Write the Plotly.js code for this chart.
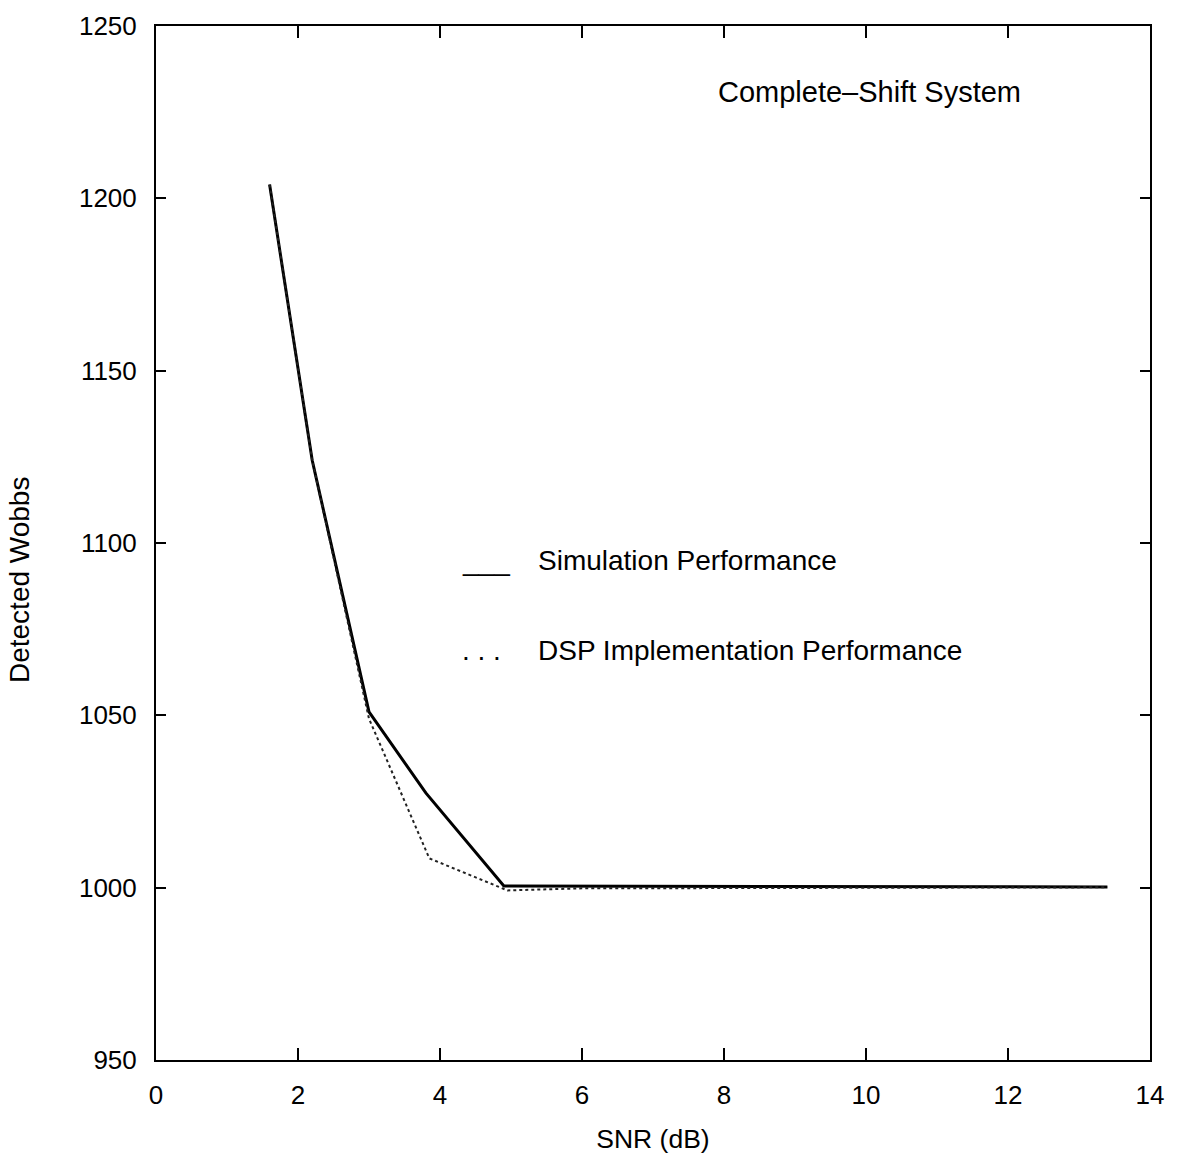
<!DOCTYPE html>
<html>
<head>
<meta charset="utf-8">
<script src="https://cdn.plot.ly/plotly-3.0.1.min.js"></script>
<style>html,body{margin:0;padding:0;background:#fff;}#chart{width:1181px;height:1162px;}</style>
</head>
<body>
<div id="chart"></div>
<script>
// Data
const simSNR = [1.6, 2.2, 3.0, 3.8, 4.9, 13.4];
const simWobbs = [1204, 1124, 1051, 1027.5, 1000.5, 1000.2];
const dspSNR = [1.6, 2.2, 3.0, 3.85, 4.95, 6.0, 13.4];
const dspWobbs = [1204, 1124, 1049, 1008.5, 999.2, 999.8, 1000.1];
const seriesNames = ["Simulation Performance", "DSP Implementation Performance"];
const legendKeys = ["___", ". . ."];
const xTicks = [0, 2, 4, 6, 8, 10, 12, 14];
const yTicks = [950, 1000, 1050, 1100, 1150, 1200, 1250];
const chartLabel = "Complete\u2013Shift System";
const xTitle = "SNR (dB)";
const yTitle = "Detected Wobbs";

const FONT = "Liberation Sans, Arial, Helvetica, sans-serif";

const traces = [
  {x: simSNR, y: simWobbs, mode: "lines", name: seriesNames[0],
   line: {color: "#000", width: 3}},
  {x: dspSNR, y: dspWobbs, mode: "lines", name: seriesNames[1],
   line: {color: "#222", width: 2, dash: "dot"}}
];

const axisCommon = {
  showgrid: false, zeroline: false, showline: true, linecolor: "#000", linewidth: 2,
  mirror: "ticks", ticks: "inside", tickwidth: 2, tickcolor: "#000",
  tickfont: {family: FONT, size: 26, color: "#000"}
};

function txt(text, x, y, xanchor, size, extra) {
  return Object.assign({text: text, xref: "paper", yref: "paper", x: x, y: y,
    xanchor: xanchor, yanchor: "middle", showarrow: false,
    font: {family: FONT, size: size, color: "#000"}}, extra || {});
}

const layout = {
  width: 1181, height: 1162,
  margin: {l: 156, r: 31, t: 26, b: 102},
  paper_bgcolor: "#fff", plot_bgcolor: "#fff",
  font: {family: FONT, color: "#000"},
  showlegend: false,
  xaxis: Object.assign({}, axisCommon, {
    range: [0, 14], tickvals: xTicks, ticklen: 12, ticklabelstandoff: 11,
    title: {text: xTitle, font: {family: FONT, size: 26.5, color: "#000"}, standoff: 20}
  }),
  yaxis: Object.assign({}, axisCommon, {
    range: [950, 1250], tickvals: yTicks, ticklen: 10, ticklabelstandoff: 12
  }),
  annotations: [
    txt(chartLabel, 0.718, 0.936, "center", 29),
    txt(legendKeys[0], 0.306, 0.4826, "left", 28),
    txt(seriesNames[0], 0.382, 0.4826, "left", 28),
    txt(legendKeys[1], 0.306, 0.3965, "left", 28),
    txt(seriesNames[1], 0.382, 0.3965, "left", 28),
    txt(yTitle, -0.1378, 0.4642, "center", 28, {textangle: -90})
  ]
};

Plotly.newPlot("chart", traces, layout, {displayModeBar: false, staticPlot: true});
</script>
</body>
</html>
